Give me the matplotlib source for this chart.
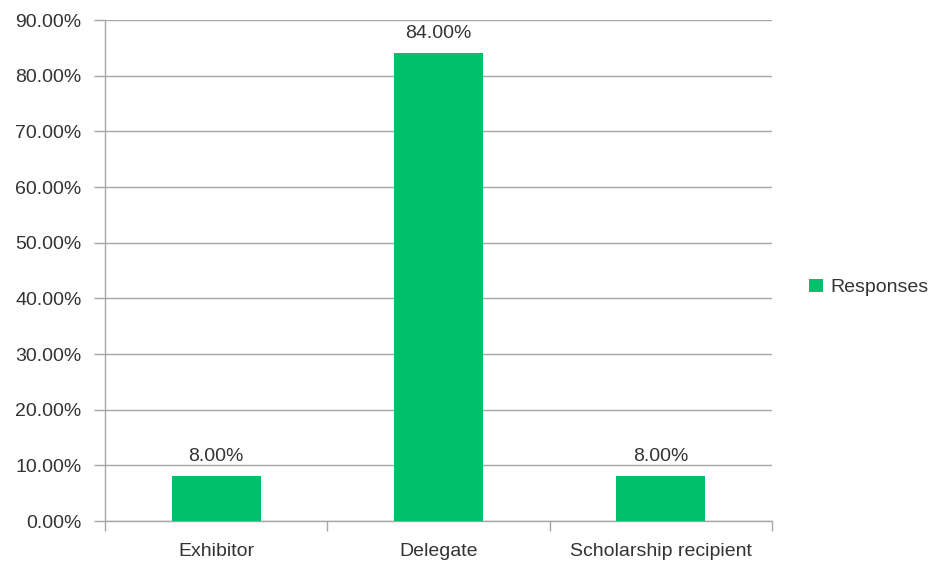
import matplotlib
matplotlib.use("Agg")
import matplotlib.pyplot as plt
from matplotlib.ticker import FuncFormatter, FixedLocator

categories = ["Exhibitor", "Delegate", "Scholarship recipient"]
responses = [8.0, 84.0, 8.0]
series_name = "Responses"
y_ticks = [0, 10, 20, 30, 40, 50, 60, 70, 80, 90]

plt.rcParams["font.family"] = ["Liberation Sans", "DejaVu Sans"]

GREEN = "#00C06B"
GRAY = "#A6A6A6"
TEXT = "#333333"
FS = 14

fig = plt.figure(figsize=(9.36, 5.64), dpi=100)
ax = fig.add_axes([0.1122, 0.0762, 0.7126, 0.8883])

x = list(range(len(categories)))
bars = ax.bar(x, responses, width=0.4, color=GREEN, label=series_name, zorder=3)

for rect, v in zip(bars, responses):
    ax.annotate(f"{v:.2f}%", (rect.get_x() + rect.get_width() / 2, v),
                xytext=(0, 8), textcoords="offset points",
                ha="center", va="bottom", fontsize=FS, color=TEXT)

ax.set_xlim(-0.5, len(categories) - 0.5)
ax.set_ylim(0, 90)
ax.set_yticks(y_ticks)
ax.yaxis.set_major_formatter(FuncFormatter(lambda v, _: f"{v:.2f}%"))
ax.grid(axis="y", color=GRAY, linewidth=1.0, zorder=0)

ax.set_xticks(x)
ax.set_xticklabels(categories)
ax.xaxis.set_minor_locator(FixedLocator([i - 0.5 for i in range(len(categories) + 1)]))
ax.tick_params(axis="x", which="major", length=0, pad=16, labelsize=FS, labelcolor=TEXT)
ax.tick_params(axis="x", which="minor", length=7, color=GRAY, width=1.0)
ax.tick_params(axis="y", length=8, color=GRAY, width=1.0, labelsize=FS, labelcolor=TEXT, pad=9)

for s in ("top", "right"):
    ax.spines[s].set_visible(False)
for s in ("left", "bottom"):
    ax.spines[s].set_color(GRAY)
    ax.spines[s].set_linewidth(1.0)

fig.legend(loc="center left", bbox_to_anchor=(0.846, 0.49), frameon=False,
           fontsize=FS, handlelength=0.7, handleheight=0.7, handletextpad=0.4,
           labelcolor=TEXT)

fig.savefig("out.png", dpi=100)
